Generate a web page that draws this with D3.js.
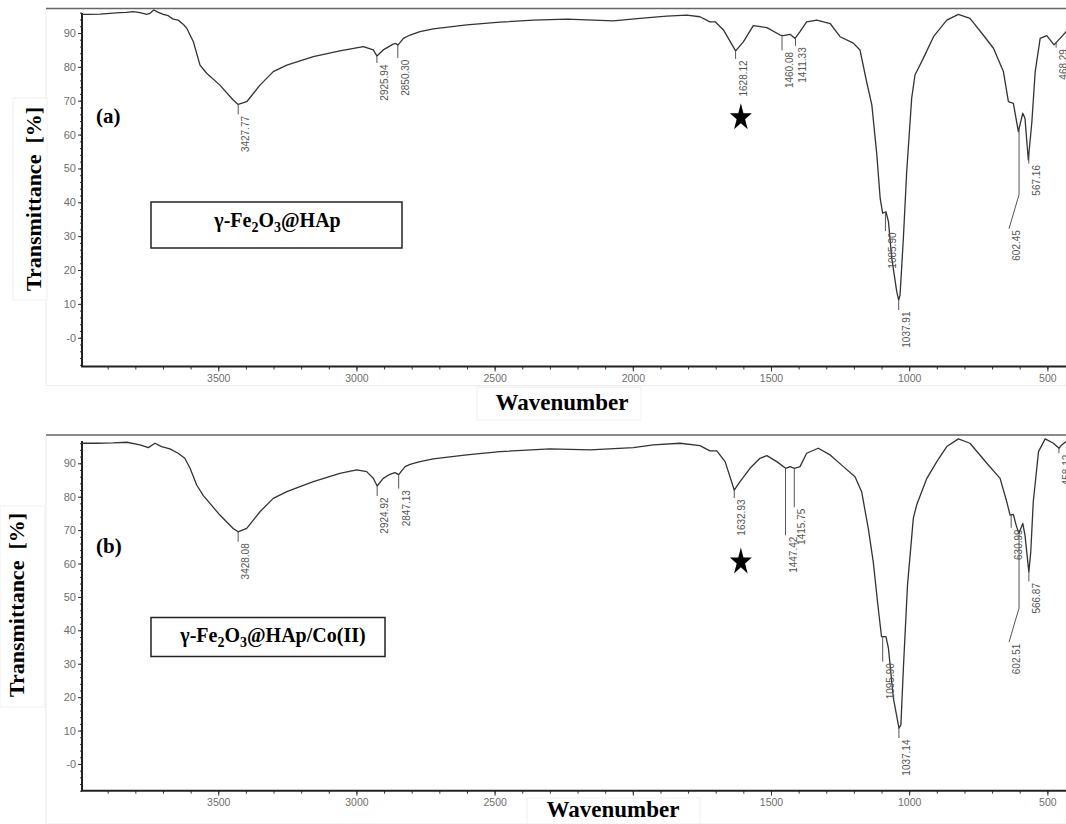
<!DOCTYPE html>
<html>
<head>
<meta charset="utf-8">
<script src="https://cdn.jsdelivr.net/npm/d3@7"></script>
<style>
  body { margin: 0; background: #fff; }
  svg { display: block; }
</style>
</head>
<body>
<div id="chart"></div>
<script>
// FTIR spectra, [wavenumber, transmittance %]
const specA = [
  [3993,95.5],[3964,95.5],[3928,95.6],[3892,95.8],[3856,96.0],[3832,96.1],[3808,96.3],[3783,96.0],
  [3759,95.5],[3747,95.8],[3733,96.8],[3717,96.1],[3699,95.5],[3681,95.1],[3663,94.1],[3645,93.8],
  [3627,92.6],[3614,91.4],[3590,87.4],[3566,80.5],[3542,78.1],[3494,74.6],[3446,70.2],[3428,68.9],
  [3397,69.7],[3349,74.6],[3301,78.6],[3252,80.5],[3156,83.0],[3060,84.7],[2975,86.0],[2939,85.0],
  [2926,83.2],[2903,85.0],[2867,86.7],[2857,86.9],[2850,86.4],[2830,88.4],[2806,89.4],[2770,90.4],
  [2722,91.2],[2601,92.4],[2481,93.2],[2360,93.8],[2239,94.1],[2071,93.6],[1974,94.3],[1877,95.0],
  [1805,95.3],[1757,94.8],[1721,93.3],[1702,93.3],[1672,90.9],[1628,84.7],[1600,87.4],[1564,92.2],
  [1515,91.6],[1467,89.4],[1455,89.2],[1431,89.6],[1413,88.4],[1395,90.4],[1371,93.3],[1334,93.8],
  [1286,92.8],[1250,88.9],[1202,87.0],[1178,85.0],[1154,75.6],[1135,68.7],[1117,54.0],[1105,41.2],
  [1096,36.8],[1084,37.2],[1075,34.3],[1063,23.5],[1045,13.6],[1038,11.1],[1033,12.6],[1021,29.4],
  [1009,49.0],[991,70.7],[979,77.6],[949,82.5],[912,88.9],[864,93.8],[822,95.5],[780,94.3],
  [732,89.4],[695,85.5],[659,78.6],[641,69.7],[623,69.2],[605,60.9],[589,66.3],[581,64.8],
  [569,52.5],[556,63.8],[544,78.6],[526,88.4],[502,89.2],[476,86.5],[454,88.4],[432,90.4],[400,91.5]
];
const specB = [
  [3993,96.0],[3940,96.0],[3880,96.1],[3831,96.3],[3783,95.5],[3753,94.7],[3729,96.0],[3705,95.0],
  [3675,94.3],[3645,93.0],[3621,91.5],[3602,88.5],[3578,83.5],[3554,80.3],[3494,74.5],[3446,70.5],
  [3428,69.5],[3397,70.5],[3349,75.5],[3301,79.5],[3252,81.5],[3156,84.5],[3060,87.0],[2999,88.0],
  [2963,87.5],[2939,85.5],[2925,83.2],[2903,85.5],[2879,86.7],[2861,87.2],[2847,86.6],[2824,89.0],
  [2806,89.7],[2770,90.5],[2722,91.3],[2601,92.5],[2481,93.5],[2300,94.3],[2155,94.0],[1998,94.7],
  [1926,95.5],[1829,96.0],[1757,95.3],[1721,93.7],[1696,93.7],[1666,90.5],[1633,82.0],[1612,84.5],
  [1576,88.5],[1540,91.5],[1515,92.3],[1479,90.5],[1447,88.5],[1431,89.0],[1415,88.5],[1395,89.0],
  [1371,93.0],[1329,94.5],[1286,92.5],[1238,89.0],[1196,86.0],[1172,81.5],[1148,70.5],[1130,60.5],
  [1112,46.6],[1100,38.1],[1084,38.1],[1075,34.6],[1057,19.6],[1037,10.7],[1030,11.7],[1021,28.6],
  [1006,53.6],[985,73.5],[973,77.5],[936,85.5],[900,90.5],[864,95.0],[822,97.3],[780,96.0],
  [719,90.0],[671,85.5],[647,78.5],[635,74.5],[623,74.7],[613,71.5],[603,69.0],[589,72.0],
  [581,68.5],[567,57.5],[560,63.5],[551,78.5],[532,93.5],[508,97.3],[478,96.0],[458,94.5],
  [448,95.5],[432,96.5],[400,97.3]
];

// labelled peaks
const peaksA = [3427.77, 2925.94, 2850.30, 1628.12, 1460.08, 1411.33, 1085.90, 1037.91, 602.45, 567.16, 468.29];
const peaksB = [3428.08, 2924.92, 2847.13, 1632.93, 1447.42, 1415.75, 1095.90, 1037.14, 630.99, 602.51, 566.87, 458.12];

// star marks [wavenumber, transmittance]
const starA = [1609, 65.0];
const starB = [1609, 60.5];

const xTicks = [3500, 3000, 2500, 2000, 1500, 1000, 500];
const xTickLabelsA = ["3500", "3000", "2500", "2000", "1500", "1000", "500"];
const xTickLabelsB = ["3500", "3000", "2500", "", "1500", "1000", "500"]; // 2000 hidden under title
const yTicks = [0, 10, 20, 30, 40, 50, 60, 70, 80, 90];
const yTickLabels = ["-0", "10", "20", "30", "40", "50", "60", "70", "80", "90"];

const W = 1066, H = 824;
const SERIF = "'Liberation Serif','Times New Roman',serif";
const SANS = "'Liberation Sans',Arial,sans-serif";

const svg = d3.select("#chart").append("svg").attr("width", W).attr("height", H);

// x scale is shared by both panels
const x = d3.scaleLinear().domain([3993, 400]).range([82, 1075]);

function curveAt(spec, wn) {
  for (let i = 0; i < spec.length - 1; i++) {
    const a = spec[i], b = spec[i + 1];
    if (wn <= a[0] && wn >= b[0]) {
      const t = (a[0] - wn) / (a[0] - b[0]);
      return a[1] + t * (b[1] - a[1]);
    }
  }
  return spec[spec.length - 1][1];
}

function drawPanel(p) {
  const y = d3.scaleLinear().domain(p.yDomain).range(p.yRange);
  const g = svg.append("g");
  const yBottom = p.yRange[0];

  // faint photo frame
  g.append("rect")
    .attr("x", 46).attr("y", p.frameTop).attr("width", W - 46).attr("height", p.frameH)
    .attr("fill", "none").attr("stroke", "#ececec");
  g.append("line")
    .attr("x1", 46).attr("x2", W).attr("y1", p.frameTop).attr("y2", p.frameTop)
    .attr("stroke", "#666").attr("stroke-width", 1.5);

  // axes
  const yAxis = d3.axisLeft(y).tickValues(yTicks).tickSize(4)
    .tickFormat((d, i) => yTickLabels[i]);
  const yMinor = d3.axisLeft(y).tickValues(d3.range(-8, 97, 2)).tickSize(2).tickFormat("");
  const xAxis = d3.axisBottom(x).tickValues(xTicks).tickSize(5)
    .tickFormat((d, i) => p.xLabels[i]);
  const xMinor = d3.axisBottom(x).tickValues(d3.range(3900, 400, -100)).tickSize(3).tickFormat("");

  [yMinor, yAxis].forEach(ax => {
    const a = g.append("g").attr("transform", "translate(82,0)").call(ax);
    a.select(".domain").remove();
    a.selectAll("line").attr("stroke", "#333");
    a.selectAll("text").attr("font-family", SANS).attr("font-size", 11).attr("fill", "#6e6e6e").attr("x", -6);
  });
  [xMinor, xAxis].forEach(ax => {
    const a = g.append("g").attr("transform", `translate(0,${yBottom})`).call(ax);
    a.select(".domain").remove();
    a.selectAll("line").attr("stroke", "#333");
    a.selectAll("text").attr("font-family", SANS).attr("font-size", 10.5).attr("fill", "#6e6e6e").attr("y", 8);
  });
  g.append("line").attr("x1", 82).attr("x2", 82).attr("y1", p.axisTop).attr("y2", yBottom)
    .attr("stroke", "#222").attr("stroke-width", 2);
  g.append("line").attr("x1", 81).attr("x2", W).attr("y1", yBottom).attr("y2", yBottom)
    .attr("stroke", "#222").attr("stroke-width", 2);

  // spectrum
  const line = d3.line().x(d => x(d[0])).y(d => y(d[1]));
  g.append("path").datum(p.spec)
    .attr("fill", "none").attr("stroke", "#333").attr("stroke-width", 1.3)
    .attr("stroke-linejoin", "round").attr("d", line);

  // peak labels with leaders
  p.peaks.forEach((wn, i) => {
    const px = x(wn), py = y(curveAt(p.spec, wn));
    const lead = p.lead[i];
    let ex, ey;
    if (Array.isArray(lead)) {
      ex = px + lead[1]; ey = py + lead[0] + lead[2];
      g.append("polyline")
        .attr("points", `${px},${py} ${px},${py + lead[0]} ${ex},${ey}`)
        .attr("fill", "none").attr("stroke", "#555").attr("stroke-width", 1);
    } else {
      ex = px; ey = py + lead;
      g.append("line").attr("x1", px).attr("x2", px).attr("y1", py).attr("y2", ey)
        .attr("stroke", "#555").attr("stroke-width", 1);
    }
    g.append("text")
      .attr("transform", `translate(${ex + 11},${ey + 1.5}) rotate(-90)`)
      .attr("text-anchor", "end")
      .attr("font-family", SANS).attr("font-size", 10).attr("fill", "#555")
      .text(wn.toFixed(2));
  });

  // star marker
  g.append("path")
    .attr("d", d3.symbol(d3.symbolStar, 150)())
    .attr("transform", `translate(${x(p.star[0])},${y(p.star[1])}) scale(1,1.25)`)
    .attr("fill", "#000");

  // panel letter
  g.append("text").attr("x", 96).attr("y", p.letterY)
    .attr("font-family", SERIF).attr("font-weight", "bold").attr("font-size", 21)
    .text(p.letter);

  // sample box
  g.append("rect").attr("x", 151).attr("y", p.box[0]).attr("width", p.box[2]).attr("height", p.box[1])
    .attr("fill", "#fff").attr("stroke", "#222").attr("stroke-width", 1.5);
  const bt = g.append("text").attr("x", 151 + p.box[2] / 2 + p.boxShift).attr("y", p.boxBase)
    .attr("text-anchor", "middle")
    .attr("font-family", SERIF).attr("font-weight", "bold").attr("font-size", 20);
  bt.append("tspan").text("\u03b3-Fe");
  bt.append("tspan").attr("dy", 5).attr("font-size", 14).text("2");
  bt.append("tspan").attr("dy", -5).text("O");
  bt.append("tspan").attr("dy", 5).attr("font-size", 14).text("3");
  bt.append("tspan").attr("dy", -5).text(p.boxTail);

  // y title
  g.append("rect").attr("x", p.yTitleBox[0]).attr("y", p.yTitleBox[1])
    .attr("width", p.yTitleBox[2]).attr("height", p.yTitleBox[3])
    .attr("fill", "#fff").attr("stroke", "#f0f0f0");
  g.append("text")
    .attr("transform", `translate(${p.yTitle[0]},${p.yTitle[1]}) rotate(-90)`)
    .attr("text-anchor", "middle").attr("xml:space", "preserve")
    .attr("font-family", SERIF).attr("font-weight", "bold").attr("font-size", 22)
    .text("Transmittance  [%]");

  // x title
  g.append("rect").attr("x", p.xTitleBox[0]).attr("y", p.xTitleBox[1])
    .attr("width", p.xTitleBox[2]).attr("height", p.xTitleBox[3])
    .attr("fill", "#fff").attr("stroke", "#f0f0f0");
  g.append("text").attr("x", p.xTitle[0]).attr("y", p.xTitle[1])
    .attr("text-anchor", "middle")
    .attr("font-family", SERIF).attr("font-weight", "bold").attr("font-size", 23)
    .text("Wavenumber");
}

drawPanel({
  spec: specA, peaks: peaksA, star: starA, letter: "(a)", xLabels: xTickLabelsA,
  yDomain: [-8.5, 97.5], yRange: [366.5, 7.6],
  frameTop: 8.5, frameH: 377, axisTop: 13,
  lead: [10, 7, 13, 8, 15, 8, 19, 10, [66, -10, 34], 9, 5],
  letterY: 123,
  box: [202, 46, 251], boxBase: 227, boxShift: 1, boxTail: "@HAp",
  yTitle: [41, 199], yTitleBox: [13, 98, 34, 202],
  xTitle: [562, 410], xTitleBox: [477, 387, 164, 33]
});

drawPanel({
  spec: specB, peaks: peaksB, star: starB, letter: "(b)", xLabels: xTickLabelsB,
  yDomain: [-8, 97], yRange: [790.7, 439.9],
  frameTop: 435, frameH: 389, axisTop: 441,
  lead: [10, 10, 14, 8, 67, 39, 25, 10, 13, [75, -10, 34], 10, 5],
  letterY: 553,
  box: [617.5, 39, 234], boxBase: 642, boxShift: 5, boxTail: "@HAp/Co(II)",
  yTitle: [24, 605], yTitleBox: [0, 506, 45, 201],
  xTitle: [613, 817], xTitleBox: [527, 798, 173, 26]
});
</script>
</body>
</html>
